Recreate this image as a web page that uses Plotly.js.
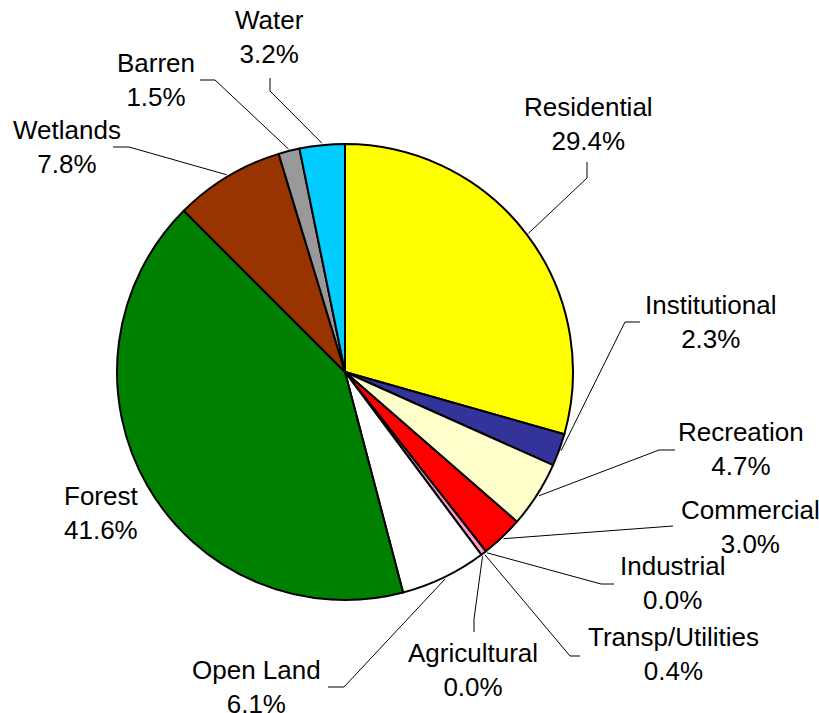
<!DOCTYPE html>
<html>
<head>
<meta charset="utf-8">
<script src="https://cdn.plot.ly/plotly-3.0.1.min.js"></script>
<style>html,body{margin:0;padding:0;background:#fff;}</style>
</head>
<body>
<div id="chart" style="width:819px;height:713px;"></div>
<script>
// ---- data ----
const categories = ["Residential","Institutional","Recreation","Commercial","Industrial","Transp/Utilities","Agricultural","Open Land","Forest","Wetlands","Barren","Water"];
const percents   = [29.4, 2.3, 4.7, 3.0, 0.0, 0.4, 0.0, 6.1, 41.6, 7.8, 1.5, 3.2];
const colors     = ["#FFFF00","#333399","#FFFFCC","#FF0000","#000000","#FF99CC","#00FF00","#FFFFFF","#008000","#993300","#999999","#00CCFF"];

// ---- layout (pixels) ----
const W = 819, H = 713;
const CX = 345, CY = 372, R = 228;
// label block centres
const labelPos = [[588,124],[711,322],[741,449],[750,527],[673,583],[673,654],[473,670],[256,687],[101,513],[67,147],[156,80],[269,37]];
// leader elbow / end points (null = no leader)
const leaderPts = [
  [[587,178],[587,162]],
  [[625,322],[640,322]],
  [[659,450],[675,450]],
  [[673,526],[673,526]],
  [[601,584],[614,584]],
  [[570,656],[580,656]],
  [[474,619],[474,632]],
  [[344,687],[328,687]],
  null,
  [[129,147],[113,147]],
  [[215,80],[200,80]],
  [[270,91],[270,78]]
];

const px = x => x / W;
const py = y => 1 - y / H;

const total = percents.reduce((a,b)=>a+b,0);
let cum = 0;
const shapes = [];
const annotations = [];
categories.forEach((c,i) => {
  const mid = (cum + percents[i]/2) / total * 2 * Math.PI;
  cum += percents[i];
  const sx = CX + (R+2) * Math.sin(mid);
  const sy = CY - (R+2) * Math.cos(mid);
  const lp = leaderPts[i];
  if (lp) {
    shapes.push({
      type: 'path', xref: 'paper', yref: 'paper',
      path: `M ${px(sx)},${py(sy)} L ${px(lp[0][0])},${py(lp[0][1])} L ${px(lp[1][0])},${py(lp[1][1])}`,
      line: {color: '#000', width: 1}
    });
  }
  annotations.push({
    xref: 'paper', yref: 'paper', x: px(labelPos[i][0]), y: py(labelPos[i][1]),
    xanchor: 'center', yanchor: 'middle', showarrow: false,
    text: c + '<br>' + percents[i].toFixed(1) + '%',
    font: {family: 'Arial, "Liberation Sans", sans-serif', size: 26, color: '#000'}
  });
});

const trace = {
  type: 'pie',
  labels: categories,
  values: percents,
  sort: false,
  direction: 'clockwise',
  rotation: 0,
  textinfo: 'none',
  hoverinfo: 'none',
  showlegend: false,
  marker: {colors: colors, line: {color: '#000', width: 2}},
  domain: {x: [(CX-R)/W, (CX+R)/W], y: [1-(CY+R)/H, 1-(CY-R)/H]}
};

Plotly.newPlot('chart', [trace], {
  width: W, height: H,
  margin: {l:0, r:0, t:0, b:0},
  paper_bgcolor: '#fff',
  showlegend: false,
  shapes: shapes,
  annotations: annotations
}, {staticPlot: true});
</script>
</body>
</html>
